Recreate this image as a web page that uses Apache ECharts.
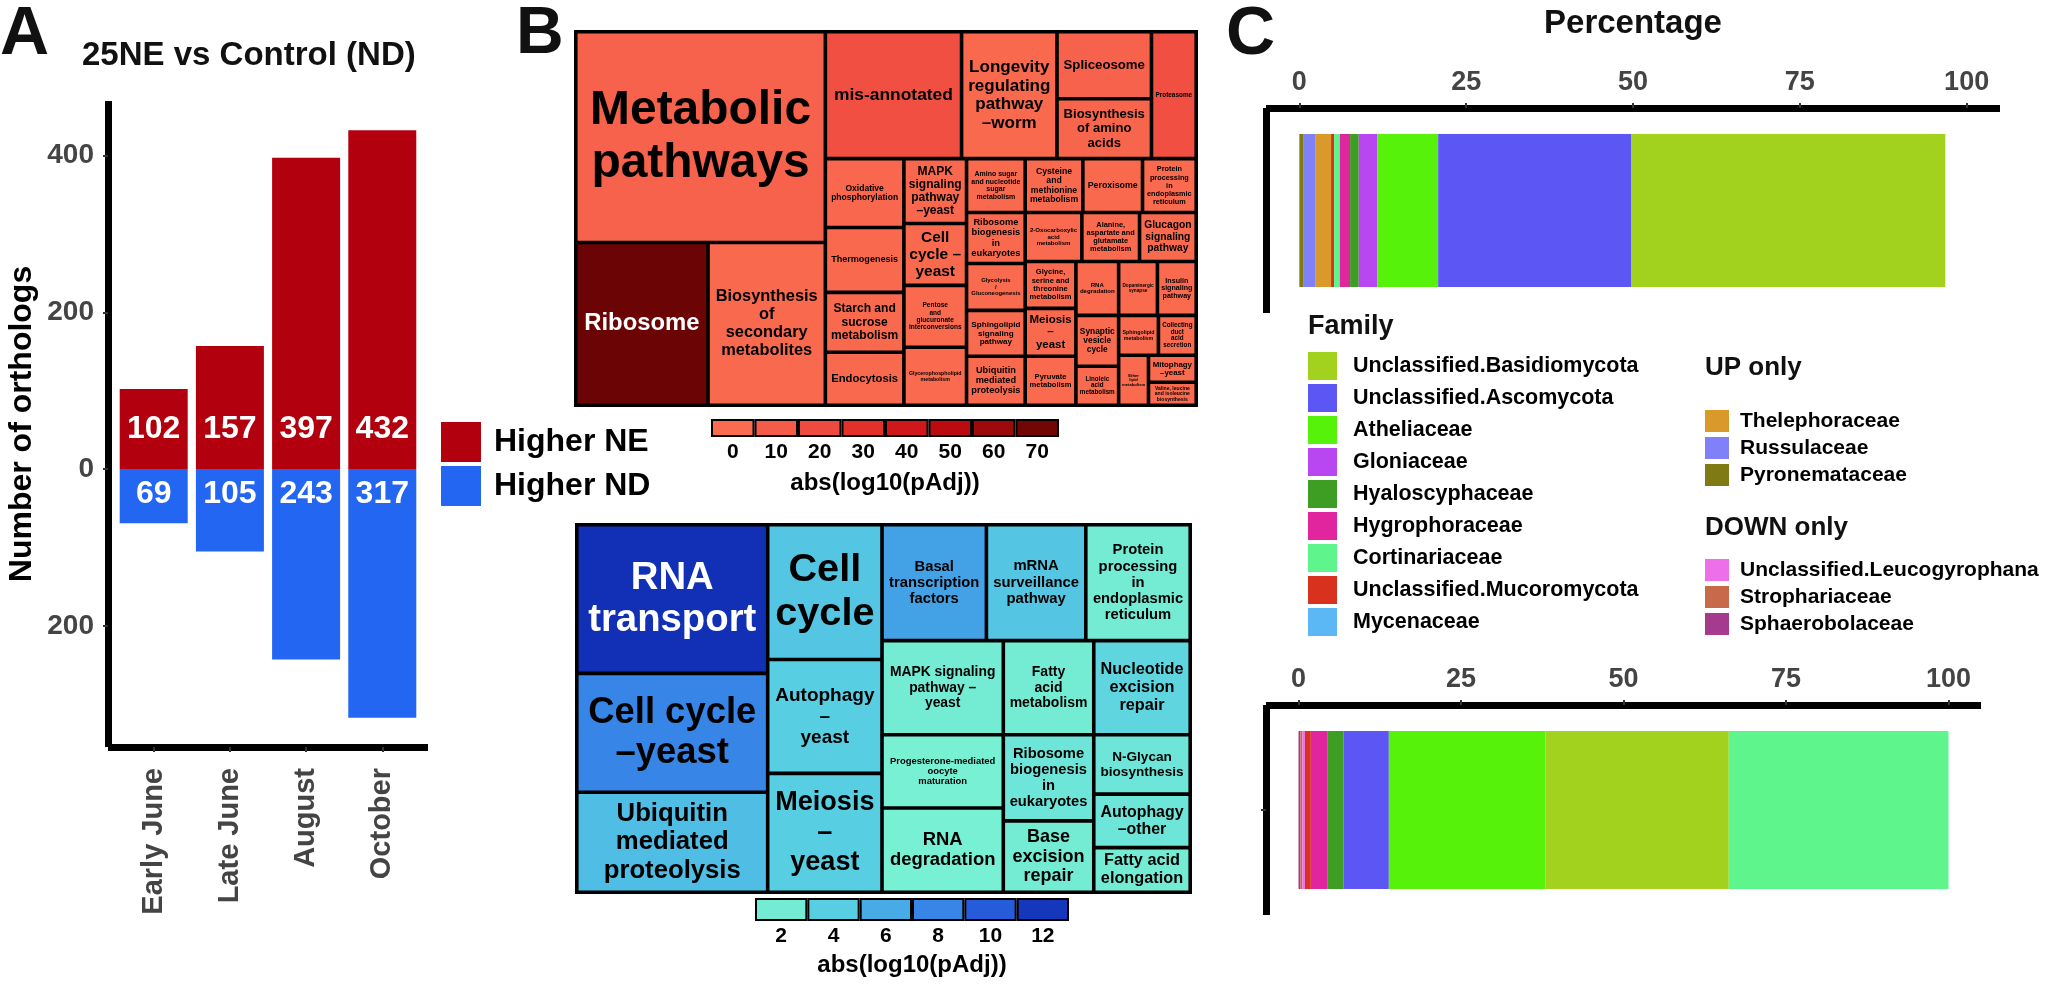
<!DOCTYPE html>
<html><head><meta charset="utf-8">
<script src="https://cdn.jsdelivr.net/npm/echarts@6/dist/echarts.min.js"></script>
<style>html,body{margin:0;padding:0;background:#fff}#c{width:2048px;height:987px}</style>
</head><body><div id="c"></div>
<script>
// ---------------- DATA ----------------
const months = ['Early June', 'Late June', 'August', 'October'];
const higherNE = [102, 157, 397, 432];
const higherND = [69, 105, 243, 317];
const countTicks = [-200, 0, 200, 400];

const upLabels = [
  'Metabolic\npathways', 'Ribosome', 'Biosynthesis\nof\nsecondary\nmetabolites', 'mis-annotated',
  'Longevity\nregulating\npathway\n\u2013worm', 'Spliceosome', 'Biosynthesis\nof amino\nacids', 'Proteasome',
  'Oxidative\nphosphorylation', 'Thermogenesis', 'Starch and\nsucrose\nmetabolism', 'Endocytosis',
  'MAPK\nsignaling\npathway\n\u2013yeast', 'Cell\ncycle \u2013\nyeast', 'Pentose\nand\nglucuronate\ninterconversions', 'Glycerophospholipid\nmetabolism',
  'Amino sugar\nand nucleotide\nsugar\nmetabolism', 'Ribosome\nbiogenesis\nin\neukaryotes', 'Glycolysis\n/\nGluconeogenesis', 'Sphingolipid\nsignaling\npathway',
  'Ubiquitin\nmediated\nproteolysis', 'Cysteine\nand\nmethionine\nmetabolism', 'Peroxisome', 'Protein\nprocessing\nin\nendoplasmic\nreticulum',
  '2-Oxocarboxylic\nacid\nmetabolism', 'Alanine,\naspartate and\nglutamate\nmetabolism', 'Glucagon\nsignaling\npathway', 'Glycine,\nserine and\nthreonine\nmetabolism',
  'Meiosis\n\u2013\nyeast', 'Pyruvate\nmetabolism', 'RNA\ndegradation', 'Synaptic\nvesicle\ncycle',
  'Linoleic\nacid\nmetabolism', 'Dopaminergic\nsynapse', 'Sphingolipid\nmetabolism', 'Ether\nlipid\nmetabolism',
  'Insulin\nsignaling\npathway', 'Collecting\nduct\nacid\nsecretion', 'Mitophagy\n\u2013yeast', 'Valine, leucine\nand isoleucine\nbiosynthesis'
];
const upSizes = [
  52961, 21679, 19234, 17399, 12192, 6365, 5700, 5715,
  5451, 5135, 4740, 4187, 4095, 3906, 3906, 3654,
  3186, 3009, 2773, 2714, 2891, 3132, 3240, 2916,
  2793, 2842, 2793, 2397, 2448, 2499, 2322, 2193,
  1677, 2106, 1600, 1500, 2106, 1520, 1296, 1104
];
const upScores = [
  6, 72, 2, 17, 2, 6, 4, 17,
  3, 2, 2, 2, 3, 2, 1, 1,
  2, 2, 1, 1, 2, 2, 2, 1,
  1, 1, 2, 1, 2, 1, 1, 1,
  1, 1, 1, 1, 1, 1, 1, 1
];
// grouping of the cells (hierarchy only)
const upTree = [
  [0, [1, 2]],
  [
    [3, [[4, [5, 6]], 7]],
    [
      [8, 9, 10, 11],
      [
        [12, 13, 14, 15],
        [
          [16, 21, 22, 23],
          [
            [17, 18, 19, 20],
            [
              [24, 25, 26],
              [
                [27, 28, 29],
                [[30, 33, 36], [[31, 32], [[34, 37], [35, [38, 39]]]]]
              ]
            ]
          ]
        ]
      ]
    ]
  ]
];
const upScaleTicks = [0, 10, 20, 30, 40, 50, 60, 70];

const downLabels = [
  'RNA\ntransport', 'Cell cycle\n\u2013yeast', 'Ubiquitin\nmediated\nproteolysis',
  'Cell\ncycle', 'Autophagy\n\u2013\nyeast', 'Meiosis\n\u2013\nyeast',
  'Basal\ntranscription\nfactors', 'mRNA\nsurveillance\npathway', 'Protein\nprocessing\nin\nendoplasmic\nreticulum',
  'MAPK signaling\npathway \u2013\nyeast', 'Progesterone-mediated\noocyte\nmaturation', 'RNA\ndegradation',
  'Fatty\nacid\nmetabolism', 'Nucleotide\nexcision\nrepair',
  'Ribosome\nbiogenesis\nin\neukaryotes', 'Base\nexcision\nrepair',
  'N-Glycan\nbiosynthesis', 'Autophagy\n\u2013other', 'Fatty acid\nelongation'
];
const downSizes = [
  28800, 23040, 19392,
  15640, 13225, 13800,
  12285, 11700, 12285,
  11590, 9028, 10370,
  8645, 9215,
  7917, 6552,
  5820, 5238, 4365
];
const downScores = [12.5, 8, 5, 4.5, 4, 4, 6.5, 4.5, 2, 2, 1.5, 1.5, 2, 3.5, 2.5, 2, 2.5, 2.5, 2];
const downTree = [[0, 1, 2], [3, 4, 5], [[6, 7, 8], [[9, 10, 11], [[12, 13], [[14, 15], [16, 17, 18]]]]]];
const downScaleTicks = [2, 4, 6, 8, 10, 12];

const familyMain = ['Unclassified.Basidiomycota', 'Unclassified.Ascomycota', 'Atheliaceae', 'Gloniaceae',
  'Hyaloscyphaceae', 'Hygrophoraceae', 'Cortinariaceae', 'Unclassified.Mucoromycota', 'Mycenaceae'];
const familyUpOnly = ['Thelephoraceae', 'Russulaceae', 'Pyronemataceae'];
const familyDownOnly = ['Unclassified.Leucogyrophana', 'Strophariaceae', 'Sphaerobolaceae'];

const upBarFamilies = ['Pyronemataceae', 'Russulaceae', 'Thelephoraceae', 'Unclassified.Mucoromycota', 'Cortinariaceae',
  'Hygrophoraceae', 'Hyaloscyphaceae', 'Gloniaceae', 'Atheliaceae', 'Unclassified.Ascomycota', 'Unclassified.Basidiomycota'];
const upBarPct = [0.65, 1.71, 2.39, 0.45, 0.86, 1.54, 1.3, 2.8, 9.1, 28.9, 47.1];
const downBarFamilies = ['Sphaerobolaceae', 'Strophariaceae', 'Unclassified.Leucogyrophana', 'Unclassified.Mucoromycota',
  'Hygrophoraceae', 'Hyaloscyphaceae', 'Unclassified.Ascomycota', 'Atheliaceae', 'Unclassified.Basidiomycota', 'Cortinariaceae'];
const downBarPct = [0.3, 0.3, 0.4, 0.9, 2.6, 2.4, 7.0, 24.1, 28.2, 33.8];
const pctTicks = [0, 25, 50, 75, 100];

// ---------------- STYLE ----------------
const FONT = '"Liberation Sans", Arial, sans-serif';
const famColor = {
  'Unclassified.Basidiomycota': '#A2D21E', 'Unclassified.Ascomycota': '#5C57F4', 'Atheliaceae': '#57F20A',
  'Gloniaceae': '#B847F2', 'Hyaloscyphaceae': '#3E9E24', 'Hygrophoraceae': '#E0259E', 'Cortinariaceae': '#5EF58C',
  'Unclassified.Mucoromycota': '#D8321E', 'Mycenaceae': '#5CB8F5', 'Thelephoraceae': '#D99A2B',
  'Russulaceae': '#8080F8', 'Pyronemataceae': '#7F7A14', 'Unclassified.Leucogyrophana': '#EE6FEA',
  'Strophariaceae': '#C8694A', 'Sphaerobolaceae': '#A63A8E'
};
const upStops = [[0, '#FA6C50'], [10, '#F45B48'], [20, '#EE4A40'], [30, '#E4302A'], [40, '#D0171A'], [50, '#BC0B10'], [60, '#9C0A0C'], [72, '#6B0404']];
const downStops = [[1, '#7CF3D4'], [2, '#74ECD4'], [4, '#58CEE2'], [6, '#47ABE5'], [8, '#3786E7'], [10, '#265CD9'], [12, '#1537BC'], [13, '#0C29AE']];

function h2r(h) { return [1, 3, 5].map(i => parseInt(h.slice(i, i + 2), 16)); }
function r2h(c) { return '#' + c.map(v => Math.round(v).toString(16).padStart(2, '0')).join(''); }
function ramp(stops, v) {
  if (v <= stops[0][0]) return stops[0][1];
  for (let i = 1; i < stops.length; i++) {
    if (v <= stops[i][0]) {
      const t = (v - stops[i - 1][0]) / (stops[i][0] - stops[i - 1][0]);
      const a = h2r(stops[i - 1][1]), b = h2r(stops[i][1]);
      return r2h(a.map((x, k) => x + (b[k] - x) * t));
    }
  }
  return stops[stops.length - 1][1];
}
function lum(h) {
  const c = h2r(h).map(v => { v /= 255; return v <= 0.03928 ? v / 12.92 : Math.pow((v + 0.055) / 1.055, 2.4); });
  return 0.2126 * c[0] + 0.7152 * c[1] + 0.0722 * c[2];
}

let gid = 0;
function buildTree(node, labels, sizes, scores, stops, fonts) {
  if (typeof node === 'number') {
    const col = ramp(stops, scores[node]);
    const fs = fonts ? fonts[node] : 8;
    return {
      name: labels[node], value: sizes[node],
      itemStyle: { color: col, borderColor: '#000', borderWidth: 1.8, gapWidth: 0 },
      label: { color: lum(col) < 0.1 ? '#fff' : '#000', fontSize: fs, lineHeight: fs * 1.1 }
    };
  }
  return {
    name: 'grp' + (gid++),
    children: node.map(ch => buildTree(ch, labels, sizes, scores, stops, fonts)),
    itemStyle: { borderWidth: 0, gapWidth: 0, borderColor: '#000' }
  };
}

function treemapSeries(id, box, tree, labels, sizes, scores, stops, fonts) {
  return Object.assign({
    type: 'treemap', id: id, squareRatio: 0.001, sort: false,
    roam: false, nodeClick: false, silent: true,
    breadcrumb: { show: false }, visibleMin: 0,
    upperLabel: { show: false },
    label: { show: true, position: 'inside', padding: 0, fontFamily: FONT, fontWeight: 'bold',
      align: 'center', verticalAlign: 'middle', overflow: 'none' },
    itemStyle: { borderColor: '#000', borderWidth: 0, gapWidth: 0 },
    levels: [{ itemStyle: { borderColor: '#000', borderWidth: 1.8, gapWidth: 0 } }],
    data: tree.map(n => buildTree(n, labels, sizes, scores, stops, fonts))
  }, box);
}

const chart = echarts.init(document.getElementById('c'), null, { renderer: 'canvas' });

function colorbarSeries(idx, ticks, stops) {
  return {
    type: 'bar', xAxisIndex: idx, yAxisIndex: idx, silent: true, barCategoryGap: '0%',
    data: ticks.map(t => ({ value: 1, itemStyle: { color: ramp(stops, t) } })),
    itemStyle: { borderColor: '#000', borderWidth: 2 }
  };
}

function buildOption(upFonts, downFonts) {
  gid = 0;
  const series = [];
  series.push(treemapSeries('tmUp', { left: 574, top: 30, width: 624, height: 377 }, upTree, upLabels, upSizes, upScores, upStops, upFonts));
  series.push(treemapSeries('tmDown', { left: 575, top: 523, width: 617, height: 371 }, downTree, downLabels, downSizes, downScores, downStops, downFonts));
  series.push({
    type: 'bar', name: 'Higher NE', xAxisIndex: 0, yAxisIndex: 0, barWidth: 68, barGap: '-100%', silent: true,
    itemStyle: { color: '#B2000E' },
    data: higherNE.map((v, i) => [i + 1, v]),
    label: { show: true, position: 'insideBottom', distance: 24, color: '#fff', fontSize: 32, fontWeight: 'bold', fontFamily: FONT,
      formatter: p => String(p.value[1]) }
  });
  series.push({
    type: 'bar', name: 'Higher ND', xAxisIndex: 0, yAxisIndex: 0, barWidth: 68, barGap: '-100%', silent: true,
    itemStyle: { color: '#2266F2' },
    data: higherND.map((v, i) => [i + 1, -v]),
    label: { show: true, position: 'insideTop', distance: 9, color: '#fff', fontSize: 32, fontWeight: 'bold', fontFamily: FONT,
      formatter: p => String(Math.abs(p.value[1])) }
  });
  series.push(colorbarSeries(1, upScaleTicks, upStops));
  series.push(colorbarSeries(2, downScaleTicks, downStops));
  upBarFamilies.forEach((f, i) => series.push({
    type: 'bar', name: f, stack: 'up', xAxisIndex: 3, yAxisIndex: 3, barWidth: 153, silent: true,
    itemStyle: { color: famColor[f] }, data: [upBarPct[i]]
  }));
  downBarFamilies.forEach((f, i) => series.push({
    type: 'bar', name: f, stack: 'down', xAxisIndex: 4, yAxisIndex: 4, barWidth: 158, silent: true,
    itemStyle: { color: famColor[f] }, data: [downBarPct[i]]
  }));
  // zero-width entry so the legend lists Mycenaceae
  series.push({ type: 'bar', name: 'Mycenaceae', stack: 'up', xAxisIndex: 3, yAxisIndex: 3, barWidth: 153, silent: true,
    itemStyle: { color: famColor['Mycenaceae'] }, data: [0] });

  const axisLine7 = { show: true, onZero: false, lineStyle: { color: '#000', width: 7, cap: 'butt' } };
  const tickLab = { color: '#444', fontWeight: 'bold', fontFamily: FONT };
  const gridBase = { outerBoundsMode: 'none', containLabel: false };

  const legendText = (fs, pad) => ({ fontSize: fs, fontWeight: 'bold', color: '#000', fontFamily: FONT, padding: [0, 0, 0, pad] });

  return {
    animation: false,
    textStyle: { fontFamily: FONT },
    grid: [
      Object.assign({ left: 108, top: 101, width: 320, height: 646 }, gridBase),
      Object.assign({ left: 711, top: 419, width: 348, height: 18 }, gridBase),
      Object.assign({ left: 755, top: 898, width: 314, height: 23 }, gridBase),
      Object.assign({ left: 1266, top: 108, width: 734, height: 205 }, gridBase),
      Object.assign({ left: 1266, top: 705, width: 715, height: 210 }, gridBase)
    ],
    xAxis: [
      { gridIndex: 0, type: 'value', min: 0.4, max: 4.6, axisLine: axisLine7, splitLine: { show: false },
        axisTick: { show: true, customValues: [1, 2, 3, 4], length: 5, lineStyle: { color: '#333', width: 2 } },
        axisLabel: Object.assign({ customValues: [1, 2, 3, 4], formatter: v => months[Math.round(v) - 1], rotate: 90, fontSize: 29, margin: 21 }, tickLab) },
      { gridIndex: 1, type: 'category', data: upScaleTicks.map(String), axisLine: { show: false }, axisTick: { show: false },
        axisLabel: { fontSize: 21, fontWeight: 'bold', color: '#000', margin: 5, fontFamily: FONT, interval: 0 },
        name: 'abs(log10(pAdj))', nameLocation: 'middle', nameGap: 34,
        nameTextStyle: { fontSize: 24, fontWeight: 'bold', color: '#000', fontFamily: FONT } },
      { gridIndex: 2, type: 'category', data: downScaleTicks.map(String), axisLine: { show: false }, axisTick: { show: false },
        axisLabel: { fontSize: 21, fontWeight: 'bold', color: '#000', margin: 5, fontFamily: FONT, interval: 0 },
        name: 'abs(log10(pAdj))', nameLocation: 'middle', nameGap: 32,
        nameTextStyle: { fontSize: 24, fontWeight: 'bold', color: '#000', fontFamily: FONT } },
      { gridIndex: 3, type: 'value', position: 'top', min: -5, max: 105, axisLine: axisLine7, splitLine: { show: false },
        axisTick: { show: true, customValues: pctTicks, length: 5, lineStyle: { color: '#333', width: 2 } },
        axisLabel: Object.assign({ customValues: pctTicks, fontSize: 27, margin: 12 }, tickLab) },
      { gridIndex: 4, type: 'value', position: 'top', min: -5, max: 105, axisLine: axisLine7, splitLine: { show: false },
        axisTick: { show: true, customValues: pctTicks, length: 5, lineStyle: { color: '#333', width: 2 } },
        axisLabel: Object.assign({ customValues: pctTicks, fontSize: 27, margin: 12 }, tickLab) }
    ],
    yAxis: [
      { gridIndex: 0, type: 'value', min: -354.45, max: 469.45, axisLine: axisLine7, splitLine: { show: false },
        axisTick: { show: true, customValues: countTicks, length: 5, lineStyle: { color: '#333', width: 2 } },
        axisLabel: Object.assign({ customValues: countTicks, formatter: v => String(Math.abs(v)), fontSize: 28, margin: 14 }, tickLab),
        name: 'Number of orthologs', nameLocation: 'middle', nameGap: 70,
        nameTextStyle: { fontSize: 32, fontWeight: 'bold', color: '#000', fontFamily: FONT } },
      { gridIndex: 1, type: 'value', min: 0, max: 1, show: false },
      { gridIndex: 2, type: 'value', min: 0, max: 1, show: false },
      { gridIndex: 3, type: 'category', data: ['UP'], axisLine: axisLine7, axisTick: { show: false }, axisLabel: { show: false } },
      { gridIndex: 4, type: 'category', data: ['DOWN'], axisLine: axisLine7,
        axisTick: { show: true, alignWithLabel: true, length: 5, lineStyle: { color: '#333', width: 2 } }, axisLabel: { show: false } }
    ],
    legend: [
      { data: ['Higher NE', 'Higher ND'], orient: 'vertical', left: 441, top: 422, padding: 0, itemWidth: 40, itemHeight: 40, itemGap: 4,
        icon: 'rect', selectedMode: false, textStyle: legendText(32, 8) },
      { data: familyMain, orient: 'vertical', left: 1308, top: 352, padding: 0, itemWidth: 29, itemHeight: 28, itemGap: 4,
        icon: 'rect', selectedMode: false, textStyle: legendText(21.5, 11) },
      { data: familyUpOnly, orient: 'vertical', left: 1705, top: 410, padding: 0, itemWidth: 24, itemHeight: 22, itemGap: 5,
        icon: 'rect', selectedMode: false, textStyle: legendText(21, 6) },
      { data: familyDownOnly, orient: 'vertical', left: 1705, top: 559, padding: 0, itemWidth: 24, itemHeight: 22, itemGap: 5,
        icon: 'rect', selectedMode: false, textStyle: legendText(21, 6) }
    ],
    graphic: [
      txt('A', 0, 35, 68, 'left'), txt('B', 516, 35, 66, 'left'), txt('C', 1226, 35, 68, 'left'),
      txt('25NE vs Control (ND)', 82, 56, 33, 'left'),
      txt('Percentage', 1633, 24, 33, 'center'),
      txt('Family', 1308, 327, 27, 'left'),
      txt('UP only', 1705, 368, 26, 'left'),
      txt('DOWN only', 1705, 528, 26, 'left')
    ],
    series: series
  };
}
function txt(t, x, y, fs, align) {
  return { type: 'text', x: x, y: y, silent: true,
    style: { text: t, fill: '#111', font: 'bold ' + fs + 'px ' + FONT, fontSize: fs, fontWeight: 'bold', fontFamily: FONT,
      textAlign: align, align: align, textVerticalAlign: 'middle', verticalAlign: 'middle' } };
}

// --------- text fitting for treemap cells ---------
const mctx = document.createElement('canvas').getContext('2d');
function fitSize(text, w, h) {
  const lines = text.split('\n');
  mctx.font = 'bold 100px ' + FONT;
  let mw = 0;
  lines.forEach(l => { mw = Math.max(mw, mctx.measureText(l).width); });
  const sW = (w * 0.9) / (mw / 100);
  const sH = (h * 0.9) / (lines.length * 1.12);
  return Math.max(4, Math.min(sW, sH, 70));
}
function measureFonts(seriesId, labels) {
  const out = labels.map(() => 8);
  try {
    const sm = chart.getModel().getSeries().find(s => s.id === seriesId);
    const data = sm.getData();
    for (let i = 0; i < data.count(); i++) {
      const k = labels.indexOf(data.getName(i));
      if (k < 0) continue;
      const lay = data.getItemLayout(i);
      if (!lay) continue;
      out[k] = fitSize(labels[k], lay.width - 4, lay.height - 4);
    }
  } catch (e) { console.log(e); }
  return out;
}

chart.setOption(buildOption(null, null));
const upFonts = measureFonts('tmUp', upLabels);
const downFonts = measureFonts('tmDown', downLabels);
chart.setOption(buildOption(upFonts, downFonts), { notMerge: true });
</script>
</body></html>
